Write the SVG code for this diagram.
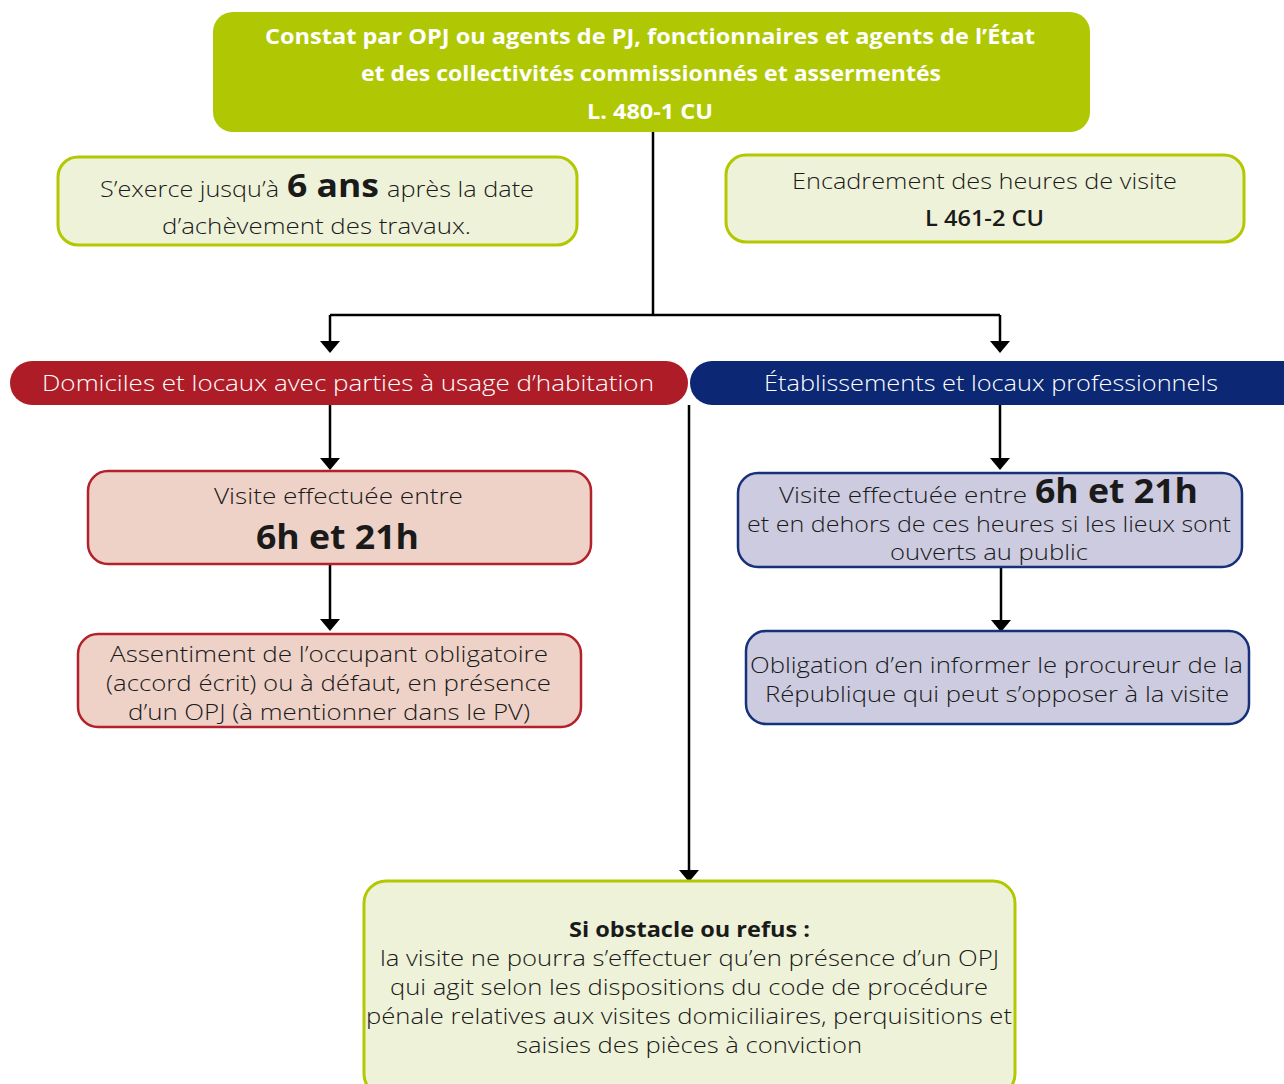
<svg xmlns="http://www.w3.org/2000/svg" width="1284" height="1084" viewBox="0 0 1284 1084">
<defs>
<style>
.t{font-family:"Open Sans","Noto Sans",sans-serif;fill:#1a1a1a;font-weight:300}
.w{fill:#fff}
.b{font-weight:700}
.sb{font-weight:600}
.note{fill:#eef2d9;stroke:#b3c800;stroke-width:3}
.rbox{fill:#eed2c8;stroke:#b3212b;stroke-width:2.5}
.bbox{fill:#cccbe0;stroke:#17307a;stroke-width:2.5}
.c{fill:none;stroke:#000;stroke-width:2.5}
.h{fill:#000}
</style>
<path id="head" d="M-10,-12 L10,-12 L0,0 Z"/>
</defs>
<rect width="1284" height="1084" fill="#fff"/>
<g id="connectors">
<path class="c" d="M653,132 V315"/>
<path class="c" d="M330,315 H1000"/>
<path class="c" d="M330,315 V345"/>
<use href="#head" class="h" x="330" y="353"/>
<path class="c" d="M1000,315 V345"/>
<use href="#head" class="h" x="1000" y="353"/>
<path class="c" d="M330,405 V462"/>
<use href="#head" class="h" x="330" y="470"/>
<path class="c" d="M330,564 V622"/>
<use href="#head" class="h" x="330" y="631"/>
<path class="c" d="M1000,405 V462"/>
<use href="#head" class="h" x="1000" y="470"/>
<path class="c" d="M1001,567 V624"/>
<use href="#head" class="h" x="1001" y="632"/>
<path class="c" d="M689,405 V874"/>
<use href="#head" class="h" x="689" y="882"/>
</g>
<g id="n-constat">
<rect x="213" y="12" width="877" height="120" rx="20" fill="#b0c803"/>
<text class="t w b" x="265" y="44" font-size="22" textLength="770" lengthAdjust="spacingAndGlyphs">Constat par OPJ ou agents de PJ, fonctionnaires et agents de l’État</text>
<text class="t w b" x="361" y="81" font-size="22" textLength="580" lengthAdjust="spacingAndGlyphs">et des collectivités commissionnés et assermentés</text>
<text class="t w b" x="587" y="119" font-size="22" textLength="126" lengthAdjust="spacingAndGlyphs">L. 480-1 CU</text>
</g>
<g id="n-6ans">
<rect class="note" x="58" y="157" width="519" height="88" rx="20"/>
<text class="t" x="100" y="197" font-size="22" textLength="179" lengthAdjust="spacingAndGlyphs">S’exerce jusqu’à</text>
<text class="t b" x="287" y="197" font-size="32" textLength="92" lengthAdjust="spacingAndGlyphs">6 ans</text>
<text class="t" x="387" y="197" font-size="22" textLength="147" lengthAdjust="spacingAndGlyphs">après la date</text>
<text class="t" x="162" y="234" font-size="22" textLength="309" lengthAdjust="spacingAndGlyphs">d’achèvement des travaux.</text>
</g>
<g id="n-heures">
<rect class="note" x="726" y="155" width="518" height="87" rx="20"/>
<text class="t" x="792" y="189" font-size="22" textLength="385" lengthAdjust="spacingAndGlyphs">Encadrement des heures de visite</text>
<text class="t sb" x="925" y="226" font-size="21" textLength="119" lengthAdjust="spacingAndGlyphs">L 461-2 CU</text>
</g>
<g id="n-domiciles">
<rect x="10" y="361" width="678" height="44" rx="22" fill="#ae1d27"/>
<text class="t w" x="42" y="391" font-size="22" textLength="612" lengthAdjust="spacingAndGlyphs">Domiciles et locaux avec parties à usage d’habitation</text>
</g>
<g id="n-etablissements">
<rect x="690" y="361" width="620" height="44" rx="22" fill="#0c2874"/>
<text class="t w" x="764" y="391" font-size="22" textLength="454" lengthAdjust="spacingAndGlyphs">Établissements et locaux professionnels</text>
</g>
<g id="n-visite-dom">
<rect class="rbox" x="88" y="471" width="503" height="93" rx="20"/>
<text class="t" x="214" y="504" font-size="22" textLength="249" lengthAdjust="spacingAndGlyphs">Visite effectuée entre</text>
<text class="t b" x="256" y="549" font-size="34" textLength="163" lengthAdjust="spacingAndGlyphs">6h et 21h</text>
</g>
<g id="n-assentiment">
<rect class="rbox" x="78" y="634" width="503" height="93" rx="20"/>
<text class="t" x="110" y="662" font-size="22.5" textLength="438" lengthAdjust="spacingAndGlyphs">Assentiment de l’occupant obligatoire</text>
<text class="t" x="106" y="691" font-size="22.5" textLength="445" lengthAdjust="spacingAndGlyphs">(accord écrit) ou à défaut, en présence</text>
<text class="t" x="128" y="720" font-size="22.5" textLength="402" lengthAdjust="spacingAndGlyphs">d’un OPJ (à mentionner dans le PV)</text>
</g>
<g id="n-visite-pro">
<rect class="bbox" x="738" y="473" width="504" height="94" rx="20"/>
<text class="t" x="779" y="503" font-size="22" textLength="248" lengthAdjust="spacingAndGlyphs">Visite effectuée entre</text>
<text class="t b" x="1035" y="503" font-size="34" textLength="163" lengthAdjust="spacingAndGlyphs">6h et 21h</text>
<text class="t" x="747" y="532" font-size="22" textLength="484" lengthAdjust="spacingAndGlyphs">et en dehors de ces heures si les lieux sont</text>
<text class="t" x="890" y="560" font-size="22" textLength="198" lengthAdjust="spacingAndGlyphs">ouverts au public</text>
</g>
<g id="n-procureur">
<rect class="bbox" x="746" y="631" width="503" height="93" rx="20"/>
<text class="t" x="750" y="673" font-size="22.5" textLength="493" lengthAdjust="spacingAndGlyphs">Obligation d’en informer le procureur de la</text>
<text class="t" x="765" y="702" font-size="22.5" textLength="464" lengthAdjust="spacingAndGlyphs">République qui peut s’opposer à la visite</text>
</g>
<g id="n-obstacle">
<rect class="note" x="364" y="881" width="651" height="215" rx="22"/>
<text class="t b" x="569" y="937" font-size="22" textLength="241" lengthAdjust="spacingAndGlyphs">Si obstacle ou refus :</text>
<text class="t" x="380" y="966" font-size="22.5" textLength="619" lengthAdjust="spacingAndGlyphs">la visite ne pourra s’effectuer qu’en présence d’un OPJ</text>
<text class="t" x="390" y="995" font-size="22.5" textLength="598" lengthAdjust="spacingAndGlyphs">qui agit selon les dispositions du code de procédure</text>
<text class="t" x="366" y="1024" font-size="22.5" textLength="646" lengthAdjust="spacingAndGlyphs">pénale relatives aux visites domiciliaires, perquisitions et</text>
<text class="t" x="516" y="1053" font-size="22.5" textLength="346" lengthAdjust="spacingAndGlyphs">saisies des pièces à conviction</text>
</g>
</svg>
